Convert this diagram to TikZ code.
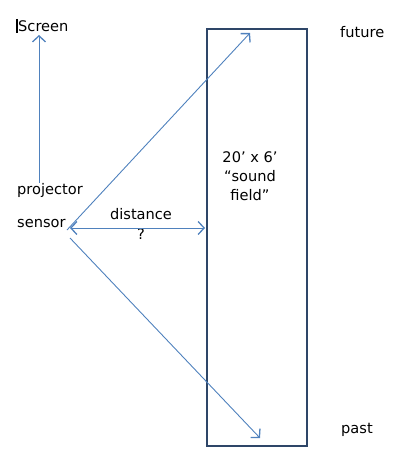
\documentclass[tikz,border=0pt]{standalone}
\usepackage{fontspec}
\setmainfont{DejaVu Sans}
\usetikzlibrary{arrows.meta}
\definecolor{arrowblue}{HTML}{4F81BD}
\definecolor{boxblue}{HTML}{2E4668}
\tikzset{
  lbl/.style={inner sep=0pt, font=\fontsize{14.6}{16}\selectfont, text=black},
  tip/.style={Straight Barb[length=6pt,width=13pt,line width=1.3pt]},
  conn/.style={draw=arrowblue, line width=0.9pt, -{Straight Barb[length=6pt,width=13pt,line width=1.3pt]}},
  dconn/.style={draw=arrowblue, line width=0.9pt, {Straight Barb[length=6pt,width=13pt,line width=1.3pt]}-{Straight Barb[length=6pt,width=13pt,line width=1.3pt]}},
  fieldbox/.style={draw=boxblue, line width=2.4pt, inner sep=0pt}
}
\begin{document}
\begin{tikzpicture}[x=1pt,y=-1pt]
\useasboundingbox (0,0) rectangle (404,468);
% field rectangle
\node[fieldbox, minimum width=100pt, minimum height=417pt, anchor=north west] (field) at (206,28) {};
\node[lbl, align=center, font=\fontsize{14.6}{19}\selectfont] (fieldtxt) at (250,176) {20’ x 6’\\“sound\\field”};
% labels
\node[lbl, anchor=west] (screen) at (18,26) {Screen};
\draw[black, line width=1.3pt] (17,19) -- (17,33);
\node[lbl, anchor=west] (projector) at (17,190) {projector};
\node[lbl, anchor=west] (sensor) at (17,224) {sensor};
\node[lbl] (distance) at (141,214) {distance};
\node[lbl] (q) at (141,234) {?};
\node[lbl, anchor=west] (future) at (340,32) {future};
\node[lbl, anchor=west] (past) at (341,430) {past};
% coordinates
\coordinate (projbase) at (39,183);
\coordinate (screentip) at (39,35);
\coordinate (s1) at (67,230);
\coordinate (s2) at (70,238);
\coordinate (futuretip) at (250,33);
\coordinate (pasttip) at (260,438);
\coordinate (dleft) at (70,228);
\coordinate (dright) at (205,228);
% connectors
\draw[conn] (projbase) -- (screentip);
\draw[conn] (s1) -- (futuretip);
\draw[conn] (s2) -- (pasttip);
\draw[dconn] (dleft) -- (dright);
\end{tikzpicture}
\end{document}
